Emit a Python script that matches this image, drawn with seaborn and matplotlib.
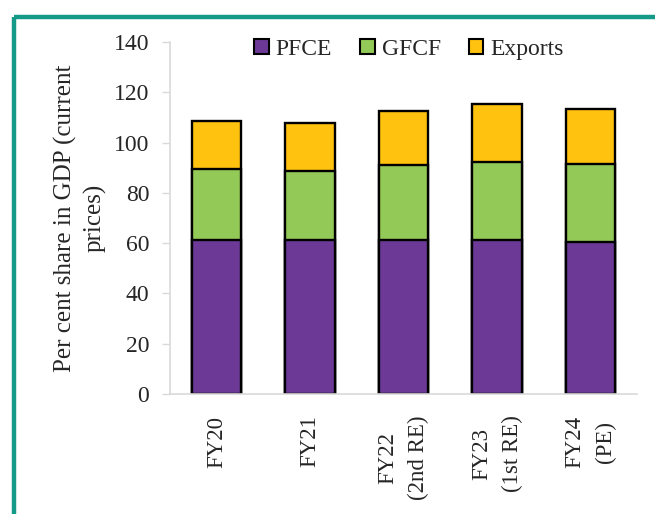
import pandas as pd
import matplotlib.pyplot as plt
import seaborn as sns
from matplotlib.lines import Line2D
from matplotlib.patches import Patch

# values
years = ['FY20', 'FY21', 'FY22\n(2nd RE)', 'FY23\n(1st RE)', 'FY24\n(PE)']
pfce = [61.3, 61.3, 61.3, 61.3, 60.4]
gfcf = [28.2, 27.4, 29.8, 31.0, 31.1]
exports = [19.1, 19.1, 21.5, 23.0, 21.9]

colors = {'PFCE': '#6C3A96', 'GFCF': '#92C957', 'Exports': '#FFC20E'}

df = pd.DataFrame({'year': years, 'PFCE': pfce, 'GFCF': gfcf, 'Exports': exports})
df['top_gfcf'] = df['PFCE'] + df['GFCF']
df['top_exp'] = df['top_gfcf'] + df['Exports']

sns.set_style('white')
plt.rcParams['font.family'] = ['Liberation Serif', 'DejaVu Serif']

fig = plt.figure(figsize=(6.55, 5.14), dpi=100)
ax = fig.add_axes([0.2595, 0.2335, 0.713, 0.6848])

# stacked bars: draw cumulative totals from the top segment down
for col, name in [('top_exp', 'Exports'), ('top_gfcf', 'GFCF'), ('PFCE', 'PFCE')]:
    sns.barplot(data=df, x='year', y=col, color=colors[name], saturation=1,
                width=0.53, edgecolor='black', linewidth=1.7, ax=ax)

ax.set_ylim(0, 140)
ax.set_xlim(-0.5, 4.5)
ax.set_yticks(range(0, 141, 20))
ax.set_xlabel('')
ax.set_ylabel('Per cent share in GDP (current\nprices)', fontsize=18, labelpad=5,
              linespacing=1.35)
ax.tick_params(axis='y', left=True, length=6, width=1, color='#d9d9d9', pad=9, labelsize=17)
ax.tick_params(axis='x', bottom=False, pad=12, labelsize=16.5)
plt.setp(ax.get_xticklabels(), rotation=90, va='top', ha='center',
         multialignment='center', linespacing=1.6)

for side in ['top', 'right']:
    ax.spines[side].set_visible(False)
for side in ['left', 'bottom']:
    ax.spines[side].set_color('#d9d9d9')
    ax.spines[side].set_linewidth(1.2)

handles = [Patch(facecolor=colors[n], edgecolor='black', linewidth=1.5, label=n)
           for n in ['PFCE', 'GFCF', 'Exports']]
ax.legend(handles=handles, loc='center', bbox_to_anchor=(0.512, 0.98), ncol=3,
          frameon=False, fontsize=17, handlelength=0.6, handleheight=0.6,
          handletextpad=0.3, columnspacing=1.2)

# teal frame on the top and left
teal = '#159A8A'
fig.add_artist(Line2D([14 / 655, 1], [0.967, 0.967], color=teal, lw=3.2,
                      transform=fig.transFigure, solid_capstyle='butt'))
fig.add_artist(Line2D([14 / 655, 14 / 655], [0, 0.967], color=teal, lw=3.2,
                      transform=fig.transFigure, solid_capstyle='butt'))

fig.savefig('out.png', dpi=100)
